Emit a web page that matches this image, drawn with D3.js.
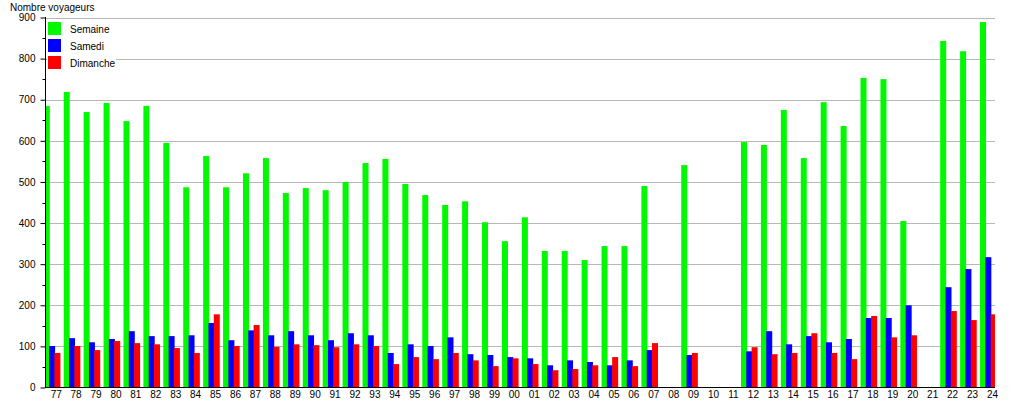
<!DOCTYPE html>
<html><head><meta charset="utf-8">
<script src="https://cdn.jsdelivr.net/npm/d3@7"></script>
<style>body{margin:0;background:#fff}svg{display:block}text{font-family:Arial,"Liberation Sans",sans-serif;font-size:10px;fill:#000}</style>
</head><body>
<script>
const categories = ["77","78","79","80","81","82","83","84","85","86","87","88","89","90","91","92","93","94","95","96","97","98","99","00","01","02","03","04","05","06","07","08","09","10","11","12","13","14","15","16","17","18","19","20","21","22","23","24"];
const semaine  = [685,719,670,692,648,685,595,487,563,487,521,558,473,485,480,500,546,556,495,468,444,453,402,356,414,332,332,310,344,344,490,null,541,null,null,597,590,675,558,694,636,753,750,405,null,843,818,889];
const samedi   = [101,120,110,118,137,125,125,127,157,115,139,127,137,127,115,132,127,84,105,101,122,81,79,74,71,54,66,62,54,66,91,null,79,null,null,88,137,105,125,110,118,169,169,200,null,244,288,317];
const dimanche = [84,101,91,113,108,105,96,84,178,101,152,99,105,103,98,105,101,57,74,69,84,66,52,71,57,42,45,54,74,52,108,null,84,null,null,98,81,84,132,84,69,174,122,127,null,186,164,178];
const seriesNames = ["Semaine","Samedi","Dimanche"];
const seriesColors = ["#00f800","#0000ff","#ff0000"];
const yTicks = [0,100,200,300,400,500,600,700,800,900];
const yTitle = "Nombre voyageurs";

const W=1015,H=400, L=45, R=995, T=17.5, B=387.5;
const svg=d3.select("body").append("svg").attr("width",W).attr("height",H);
const step=19.92, x0=43.8;
const x=d3.scaleBand().domain(categories).range([x0,x0+step*categories.length]).padding(0);
const y=d3.scaleLinear().domain([0,900]).range([B,T]);

svg.append("defs").append("clipPath").attr("id","clip").append("rect").attr("x",L).attr("y",T-1).attr("width",R-L).attr("height",B-T+1);

// gridlines
svg.append("g").selectAll("line").data(yTicks.slice(1)).join("line")
  .attr("x1",L).attr("x2",R).attr("y1",d=>Math.round(y(d))+0.5).attr("y2",d=>Math.round(y(d))+0.5)
  .attr("stroke","#b8b8b8").attr("stroke-width",1);

// bars
const series=[semaine,samedi,dimanche];
const offs=[0,5.3,10.6];
const gb=svg.append("g").attr("clip-path","url(#clip)");
series.forEach((s,i)=>{
  gb.append("g").selectAll("rect").data(categories.map((c,j)=>({c,v:s[j]})).filter(d=>d.v!=null)).join("rect")
    .attr("x",d=>x(d.c)+offs[i]).attr("width",6)
    .attr("y",d=>y(d.v)).attr("height",d=>y(0)-y(d.v))
    .attr("fill",seriesColors[i]);
});

// y axis
const yAxis=d3.axisLeft(y).tickValues(yTicks).tickSize(5).tickPadding(5).tickFormat(d3.format("d"));
const ga=svg.append("g").attr("transform",`translate(${L+0.5},0)`).call(yAxis);
ga.select(".domain").remove();
ga.selectAll(".tick line").attr("stroke","#000");
ga.selectAll(".tick text").style("font-size","10px").style("font-family","Arial,'Liberation Sans',sans-serif");
const minor=d3.range(50,900,100);
svg.append("g").selectAll("line").data(minor).join("line")
  .attr("x1",L-2.5).attr("x2",L+0.5).attr("y1",d=>Math.round(y(d))+0.5).attr("y2",d=>Math.round(y(d))+0.5).attr("stroke","#000");
svg.append("line").attr("x1",L+0.5).attr("x2",L+0.5).attr("y1",T-0.5).attr("y2",B+0.5).attr("stroke","#000");
// x axis
svg.append("line").attr("x1",L).attr("x2",R).attr("y1",B).attr("y2",B).attr("stroke","#000");
svg.append("g").selectAll("text").data(categories).join("text")
  .attr("x",d=>x(d)+12.4).attr("y",398).attr("text-anchor","middle").text(d=>d);

// title
svg.append("text").attr("x",10).attr("y",10.5).text(yTitle);

// legend
const lg=svg.append("g");
lg.append("rect").attr("x",47).attr("y",20).attr("width",69).attr("height",52).attr("fill","#fff");
seriesNames.forEach((n,i)=>{
  lg.append("rect").attr("x",48).attr("y",22+17*i).attr("width",13).attr("height",13).attr("fill",seriesColors[i]);
  lg.append("text").attr("x",70).attr("y",33+17*i).text(n);
});
</script>
</body></html>
